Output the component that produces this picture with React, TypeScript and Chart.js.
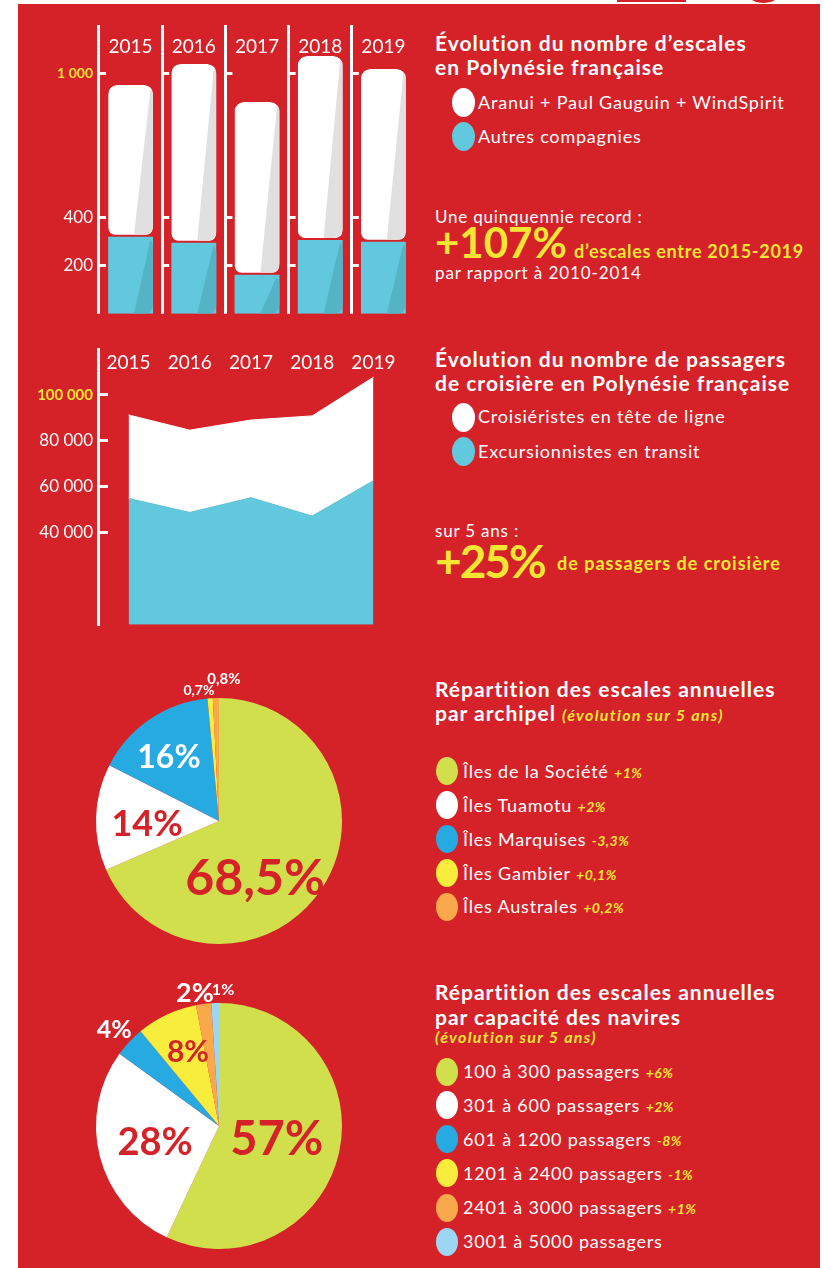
import React, { useEffect, useRef } from "react";
import { Chart, registerables } from "chart.js";
Chart.register(...registerables);

const RED = "#d52229";
const YELLOW = "#f5e634";
const WHITE = "#ffffff";
const BAR_BLUE = "#62c8de";
const FONT = "Lato, 'Open Sans', sans-serif";

// ---- Évolution du nombre d'escales
const years = ["2015", "2016", "2017", "2018", "2019"];
const escalesAutres = [320, 295, 162, 307, 299];
const escalesAranui = [631, 743, 718, 764, 718];
const escalesTicks = [200, 400, 1000];
const escalesMax = 1200;

// ---- Évolution du nombre de passagers
const passagersTransit = [55000, 48900, 55300, 47300, 62700];
const passagersTete = [36300, 35800, 33800, 43600, 45000];
const passagersTicks = [40000, 60000, 80000, 100000];
const passagersMax = 120000;

// ---- Répartition par archipel
const archipels = ["Îles de la Société", "Îles Tuamotu", "Îles Marquises", "Îles Gambier", "Îles Australes"];
const archipelShares = [68.5, 14, 16, 0.7, 0.8];
const archipelEvolution = ["+1%", "+2%", "-3,3%", "+0,1%", "+0,2%"];

// ---- Répartition par capacité
const capacites = [
  "100 à 300 passagers",
  "301 à 600 passagers",
  "601 à 1200 passagers",
  "1201 à 2400 passagers",
  "2401 à 3000 passagers",
  "3001 à 5000 passagers",
];
const capaciteShares = [57, 28, 4, 8, 2, 1];
const capaciteEvolution = ["+6%", "+2%", "-8%", "-1%", "+1%", ""];

// ---- styles (not data)
const archipelColors = ["#d2df4c", "#ffffff", "#27aae1", "#f8ec3c", "#f9a84c"];
const capaciteColors = ["#d2df4c", "#ffffff", "#27aae1", "#f8ec3c", "#f9a84c", "#9dd6f2"];
const archipelLabelStyle = [
  { angle: 147, r: 0.54, size: 50, color: RED },
  { angle: 268.4, r: 0.585, size: 36, color: RED },
  { angle: 322.4, r: 0.667, size: 32, color: WHITE },
  { angle: 351.3, r: 1.077, size: 14, color: WHITE },
  { angle: 2, r: 1.155, size: 15, color: WHITE },
];
const capaciteLabelStyle = [
  { angle: 101.7, r: 0.48, size: 47, color: RED },
  { angle: 256.8, r: 0.534, size: 38, color: RED },
  { angle: 312.7, r: 1.16, size: 25, color: WHITE },
  { angle: 337.5, r: 0.66, size: 30, color: RED },
  { angle: 349.8, r: 1.107, size: 27, color: WHITE },
  { angle: 1.7, r: 1.115, size: 16, color: WHITE },
];

Chart.defaults.font.family = FONT;

const fmtThousands = (v: number) => String(v).replace(/\B(?=(\d{3})+(?!\d))/g, " ");
const fmtPct = (v: number) => String(v).replace(".", ",") + "%";

const barShade = {
  id: "barShade",
  afterDatasetsDraw(chart: any) {
    const ctx = chart.ctx;
    chart.data.datasets.forEach((ds: any, di: number) => {
      const meta = chart.getDatasetMeta(di);
      meta.data.forEach((el: any) => {
        const { x, y, base, width } = el.getProps(["x", "y", "base", "width"], true);
        const left = x - width / 2;
        const right = x + width / 2;
        const top = Math.min(y, base);
        const bottom = Math.max(y, base) - (ds.gapBottom || 0);
        ctx.save();
        ctx.beginPath();
        ctx.roundRect(left, top, width, bottom - top, 9);
        ctx.clip();
        ctx.beginPath();
        ctx.moveTo(right - 2, top);
        ctx.lineTo(right + 2, top);
        ctx.lineTo(right + 2, bottom);
        ctx.lineTo(right - 19, bottom);
        ctx.closePath();
        ctx.fillStyle = ds.shadeColor;
        ctx.fill();
        ctx.restore();
      });
    });
  },
};

function makePieLabels(values: number[], styles: any[]) {
  return {
    id: "pieLabels",
    afterDatasetsDraw(chart: any) {
      const ctx = chart.ctx;
      const arc = chart.getDatasetMeta(0).data[0];
      const cx = arc.x;
      const cy = arc.y;
      const R = arc.outerRadius;
      ctx.save();
      ctx.textAlign = "center";
      ctx.textBaseline = "alphabetic";
      values.forEach((v, i) => {
        const s = styles[i];
        const a = (s.angle * Math.PI) / 180;
        const px = cx + s.r * R * Math.sin(a);
        const py = cy - s.r * R * Math.cos(a);
        ctx.font = `700 ${s.size}px ${FONT}`;
        ctx.fillStyle = s.color;
        ctx.fillText(fmtPct(v), px, py + s.size * 0.36);
      });
      ctx.restore();
    },
  };
}

const yearTicks = (padding: number) => ({
  color: WHITE,
  font: { family: FONT, size: 19 },
  mirror: true,
  padding,
  maxRotation: 0,
  autoSkip: false,
});

const barConfig = (): any => ({
  type: "bar",
  data: {
    labels: years,
    datasets: [
      {
        label: "Autres compagnies",
        data: escalesAutres,
        backgroundColor: BAR_BLUE,
        shadeColor: "#55b3c6",
        borderRadius: 9,
        borderSkipped: false,
        borderWidth: 0,
        barPercentage: 0.71,
        categoryPercentage: 1,
      },
      {
        label: "Aranui + Paul Gauguin + WindSpirit",
        data: escalesAranui,
        backgroundColor: WHITE,
        shadeColor: "#e0e0e0",
        gapBottom: 2,
        borderRadius: 9,
        borderSkipped: false,
        borderWidth: { top: 0, left: 0, right: 0, bottom: 2 },
        borderColor: RED,
        barPercentage: 0.71,
        categoryPercentage: 1,
      },
    ],
  },
  options: {
    responsive: false,
    animation: false,
    layout: { padding: { left: 0, top: 21, right: 5, bottom: 16 } },
    plugins: { legend: { display: false }, tooltip: { enabled: false } },
    scales: {
      x: {
        position: "top",
        stacked: true,
        offset: true,
        grid: {
          offset: true,
          color: (c: any) => (c.index != null && c.index < years.length ? WHITE : "rgba(0,0,0,0)"),
          lineWidth: 3,
          drawTicks: false,
        },
        border: { display: false },
        ticks: yearTicks(10),
        afterFit: (s: any) => {
          s.height = 0;
        },
      },
      y: {
        stacked: true,
        min: 0,
        max: escalesMax,
        afterBuildTicks: (s: any) => {
          s.ticks = escalesTicks.map((v) => ({ value: v }));
        },
        afterFit: (s: any) => {
          s.width = 81;
        },
        grid: { color: WHITE, lineWidth: 3, drawTicks: false },
        border: { display: false, dash: [7, 56.2] },
        ticks: {
          padding: 6,
          color: (c: any) => (c.tick && c.tick.value === 1000 ? YELLOW : WHITE),
          font: (c: any) =>
            c.tick && c.tick.value === 1000
              ? { family: FONT, size: 14, weight: "bold" }
              : { family: FONT, size: 17 },
          callback: (v: any) => fmtThousands(v),
        },
      },
    },
  },
  plugins: [barShade],
});

const areaConfig = (): any => ({
  type: "line",
  data: {
    labels: years,
    datasets: [
      {
        label: "Excursionnistes en transit",
        data: passagersTransit,
        backgroundColor: BAR_BLUE,
        borderColor: BAR_BLUE,
        borderWidth: 1,
        pointRadius: 0,
        fill: "origin",
        tension: 0,
      },
      {
        label: "Croisiéristes en tête de ligne",
        data: passagersTete,
        backgroundColor: WHITE,
        borderColor: WHITE,
        borderWidth: 1,
        pointRadius: 0,
        fill: "-1",
        tension: 0,
      },
    ],
  },
  options: {
    responsive: false,
    animation: false,
    layout: { padding: { left: 0, top: 19, right: 16, bottom: 11 } },
    plugins: { legend: { display: false }, tooltip: { enabled: false } },
    scales: {
      x: {
        position: "top",
        offset: true,
        grid: { display: false, drawTicks: false },
        border: { display: false },
        ticks: yearTicks(2),
        afterFit: (s: any) => {
          s.height = 0;
        },
      },
      y: {
        stacked: true,
        min: 0,
        max: passagersMax,
        afterBuildTicks: (s: any) => {
          s.ticks = passagersTicks.map((v) => ({ value: v }));
        },
        afterFit: (s: any) => {
          s.width = 80;
        },
        grid: { color: WHITE, lineWidth: 3, drawTicks: false },
        border: { display: true, color: WHITE, width: 3, dash: [8, 2000] },
        ticks: {
          padding: 5,
          color: (c: any) => (c.tick && c.tick.value === 100000 ? YELLOW : WHITE),
          font: (c: any) =>
            c.tick && c.tick.value === 100000
              ? { family: FONT, size: 15, weight: "bold" }
              : { family: FONT, size: 17 },
          callback: (v: any) => fmtThousands(v),
        },
      },
    },
  },
});

const pieConfig = (labels: string[], values: number[], colors: string[], styles: any[], padding: any): any => ({
  type: "pie",
  data: {
    labels,
    datasets: [{ data: values, backgroundColor: colors, borderWidth: 0, hoverOffset: 0 }],
  },
  options: {
    responsive: false,
    animation: false,
    layout: { padding },
    plugins: { legend: { display: false }, tooltip: { enabled: false } },
  },
  plugins: [makePieLabels(values, styles)],
});

function ChartCanvas({ make, left, top, width, height }: any) {
  const ref = useRef<HTMLCanvasElement>(null);
  useEffect(() => {
    const chart = new Chart(ref.current as HTMLCanvasElement, make());
    return () => chart.destroy();
  }, []);
  return (
    <canvas
      ref={ref}
      width={width}
      height={height}
      style={{ position: "absolute", left, top, width, height }}
    />
  );
}

const ASC = 0.987;
function Txt({ x, base, size, bold, italic, color, ls, children }: any) {
  return (
    <div
      style={{
        position: "absolute",
        left: x,
        top: base - ASC * size,
        fontSize: size,
        lineHeight: `${size * 1.2}px`,
        fontWeight: bold ? 700 : 400,
        fontStyle: italic ? "italic" : "normal",
        letterSpacing: ls != null ? ls : 0,
        color: color || WHITE,
        whiteSpace: "nowrap",
        fontFamily: FONT,
      }}
    >
      {children}
    </div>
  );
}

function Dot({ x, y, w, h, color }: any) {
  return (
    <div
      style={{
        position: "absolute",
        left: x,
        top: y,
        width: w,
        height: h,
        borderRadius: "50%",
        background: color,
      }}
    />
  );
}

const Evo = ({ children }: any) => (
  <span style={{ color: YELLOW, fontWeight: 700, fontStyle: "italic", fontSize: 14, letterSpacing: 0.5 }}>
    {children}
  </span>
);

const H = (p: any) => <Txt size={21} bold ls={1} {...p} />;
const L = (p: any) => <Txt size={18} ls={0.8} {...p} />;

export default function App() {
  const legend3Base = [778.3, 812.7, 846.7, 880.7, 914];
  const legend4Base = [1079, 1112.7, 1146.7, 1180.7, 1215, 1249];
  return (
    <div
      style={{
        position: "absolute",
        left: 0,
        top: 0,
        width: 825,
        height: 1268,
        overflow: "hidden",
        background: "#fff",
        fontFamily: FONT,
      }}
    >
      <div style={{ position: "absolute", left: 617, top: 0, width: 69, height: 2, background: RED }} />
      <div style={{ position: "absolute", left: 740, top: -44, width: 47, height: 47, borderRadius: "50%", background: RED }} />
      <div style={{ position: "absolute", left: 18, top: 4, width: 802, height: 1264, background: RED }} />

      <ChartCanvas make={barConfig} left={18} top={4} width={402} height={326} />
      <ChartCanvas make={areaConfig} left={18} top={330} width={402} height={310} />
      <ChartCanvas
        make={() => pieConfig(archipels, archipelShares, archipelColors, archipelLabelStyle, 40)}
        left={56}
        top={658}
        width={326}
        height={326}
      />
      <ChartCanvas
        make={() =>
          pieConfig(capacites, capaciteShares, capaciteColors, capaciteLabelStyle, { left: 40, right: 40, top: 40, bottom: 19 })
        }
        left={56}
        top={963}
        width={326}
        height={305}
      />

      {/* Block 1 */}
      <H x={435} base={51}>Évolution du nombre d’escales</H>
      <H x={435} base={75}>en Polynésie française</H>
      <Dot x={452} y={88} w={23} h={29} color={WHITE} />
      <L x={478} base={109.3}>Aranui + Paul Gauguin + WindSpirit</L>
      <Dot x={452} y={122} w={23} h={29} color={BAR_BLUE} />
      <L x={478} base={143.3}>Autres compagnies</L>
      <Txt x={435} base={223.3} size={17} ls={0.8}>Une quinquennie record :</Txt>
      <Txt x={435} base={258.3} size={42} bold color={YELLOW}>+107%</Txt>
      <Txt x={574} base={258.3} size={18} bold ls={0.7} color={YELLOW}>d’escales entre 2015-2019</Txt>
      <Txt x={435} base={280} size={17} ls={0.9}>par rapport à 2010-2014</Txt>

      {/* Block 2 */}
      <H x={435} base={366.7}>Évolution du nombre de passagers</H>
      <H x={435} base={391}>de croisière en Polynésie française</H>
      <Dot x={452} y={403} w={23} h={29} color={WHITE} />
      <L x={478} base={423.3}>Croisiéristes en tête de ligne</L>
      <Dot x={452} y={437} w={23} h={29} color={BAR_BLUE} />
      <L x={478} base={458.3}>Excursionnistes en transit</L>
      <Txt x={435} base={537.3} size={17} ls={0.8}>sur 5 ans :</Txt>
      <Txt x={435} base={578.3} size={46} bold ls={-2} color={YELLOW}>+25%</Txt>
      <Txt x={557} base={570.7} size={18} bold ls={1} color={YELLOW}>de passagers de croisière</Txt>

      {/* Block 3 */}
      <H x={435} base={696.7}>Répartition des escales annuelles</H>
      <H x={435} base={721}>
        par archipel{" "}
        <span style={{ color: YELLOW, fontStyle: "italic", fontSize: 16, letterSpacing: 1.3 }}>(évolution sur 5 ans)</span>
      </H>
      {archipels.map((name, i) => (
        <React.Fragment key={name}>
          <Dot x={436} y={legend3Base[i] - 21.5} w={22} h={28} color={archipelColors[i]} />
          <L x={463} base={legend3Base[i]}>
            {name} <Evo>{archipelEvolution[i]}</Evo>
          </L>
        </React.Fragment>
      ))}

      {/* Block 4 */}
      <H x={435} base={1000}>Répartition des escales annuelles</H>
      <H x={435} base={1024.3}>par capacité des navires</H>
      <Txt x={435} base={1042.7} size={16} bold italic ls={1.3} color={YELLOW}>(évolution sur 5 ans)</Txt>
      {capacites.map((name, i) => (
        <React.Fragment key={name}>
          <Dot x={436} y={legend4Base[i] - 21.5} w={22} h={28} color={capaciteColors[i]} />
          <L x={463} base={legend4Base[i]}>
            {name} {capaciteEvolution[i] ? <Evo>{capaciteEvolution[i]}</Evo> : null}
          </L>
        </React.Fragment>
      ))}
    </div>
  );
}
